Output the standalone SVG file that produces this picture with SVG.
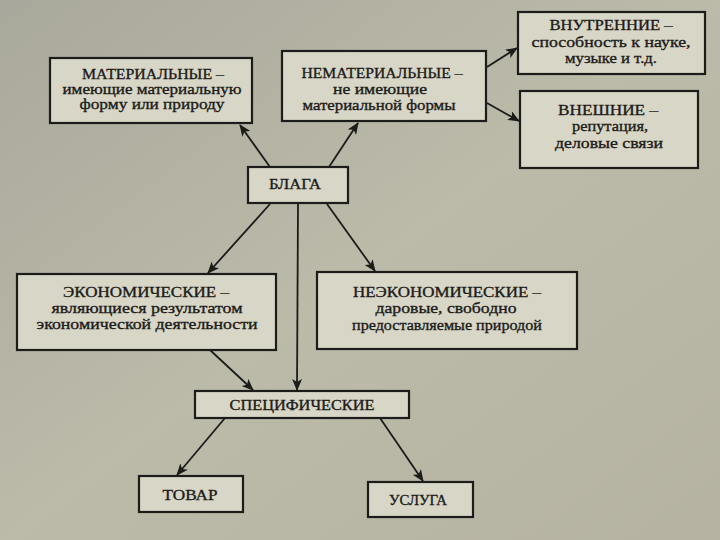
<svg xmlns="http://www.w3.org/2000/svg" width="720" height="540" viewBox="0 0 720 540">
<defs>
<linearGradient id="bg" x1="0" y1="0" x2="1" y2="1">
<stop offset="0" stop-color="#a9a89c"/>
<stop offset="0.5" stop-color="#bcbaa9"/>
<stop offset="1" stop-color="#b5b2a2"/>
</linearGradient>
<marker id="ah" viewBox="0 0 12 10" refX="11" refY="5" markerWidth="12" markerHeight="10" markerUnits="userSpaceOnUse" orient="auto">
<path d="M0,0 L12,5 L0,10 L3,5 Z" fill="#1c1c1a"/>
</marker>
<style>
.box{fill:#d8d6c6;stroke:#1c1c1a;stroke-width:2.2}
.t{font-family:"Liberation Serif","DejaVu Serif",serif;font-size:15px;fill:#1c1c1a;stroke:#1c1c1a;stroke-width:0.35;text-anchor:middle}
.c{stroke:#1c1c1a;stroke-width:1.8;fill:none;marker-end:url(#ah)}
</style>
</defs>
<rect width="720" height="540" fill="url(#bg)"/>

<g id="connectors">
<line class="c" x1="270" y1="167" x2="240" y2="125"/>
<line class="c" x1="329" y1="167" x2="358" y2="123"/>
<line class="c" x1="487" y1="67" x2="517" y2="48"/>
<line class="c" x1="487" y1="103" x2="519" y2="121"/>
<line class="c" x1="270" y1="204" x2="208" y2="273"/>
<line class="c" x1="298" y1="204" x2="297" y2="390"/>
<line class="c" x1="327" y1="204" x2="375" y2="271"/>
<line class="c" x1="210" y1="350" x2="253" y2="390"/>
<line class="c" x1="225" y1="418" x2="177" y2="475"/>
<line class="c" x1="380" y1="418" x2="423" y2="481"/>
</g>

<g id="material">
<rect class="box" x="50" y="58" width="202" height="65"/>
<text class="t" x="153" y="79" textLength="142" lengthAdjust="spacingAndGlyphs">МАТЕРИАЛЬНЫЕ –</text>
<text class="t" x="152" y="94" textLength="179" lengthAdjust="spacingAndGlyphs">имеющие материальную</text>
<text class="t" x="152" y="109" textLength="145" lengthAdjust="spacingAndGlyphs">форму или природу</text>
</g>

<g id="nonmaterial">
<rect class="box" x="282" y="51" width="204" height="70"/>
<text class="t" x="382" y="78" textLength="161" lengthAdjust="spacingAndGlyphs">НЕМАТЕРИАЛЬНЫЕ –</text>
<text class="t" x="380" y="94" textLength="94" lengthAdjust="spacingAndGlyphs">не имеющие</text>
<text class="t" x="379" y="110" textLength="153" lengthAdjust="spacingAndGlyphs">материальной формы</text>
</g>

<g id="internal">
<rect class="box" x="518" y="12" width="187" height="62"/>
<text class="t" x="611" y="30" textLength="123" lengthAdjust="spacingAndGlyphs">ВНУТРЕННИЕ –</text>
<text class="t" x="611" y="47" textLength="159" lengthAdjust="spacingAndGlyphs">способность к науке,</text>
<text class="t" x="611" y="63" textLength="92" lengthAdjust="spacingAndGlyphs">музыке и т.д.</text>
</g>

<g id="external">
<rect class="box" x="520" y="91" width="178" height="77"/>
<text class="t" x="608" y="115" textLength="100" lengthAdjust="spacingAndGlyphs">ВНЕШНИЕ –</text>
<text class="t" x="610" y="131" textLength="76" lengthAdjust="spacingAndGlyphs">репутация,</text>
<text class="t" x="609" y="148" textLength="108" lengthAdjust="spacingAndGlyphs">деловые связи</text>
</g>

<g id="blaga">
<rect class="box" x="248" y="167" width="100" height="36"/>
<text class="t" x="295" y="189" textLength="52" lengthAdjust="spacingAndGlyphs">БЛАГА</text>
</g>

<g id="economic">
<rect class="box" x="17" y="274" width="259" height="76"/>
<text class="t" x="146" y="297" textLength="166" lengthAdjust="spacingAndGlyphs">ЭКОНОМИЧЕСКИЕ –</text>
<text class="t" x="147" y="313" textLength="191" lengthAdjust="spacingAndGlyphs">являющиеся результатом</text>
<text class="t" x="147" y="329" textLength="221" lengthAdjust="spacingAndGlyphs">экономической деятельности</text>
</g>

<g id="noneconomic">
<rect class="box" x="317" y="272" width="260" height="77"/>
<text class="t" x="447" y="297" textLength="188" lengthAdjust="spacingAndGlyphs">НЕЭКОНОМИЧЕСКИЕ –</text>
<text class="t" x="446" y="313" textLength="141" lengthAdjust="spacingAndGlyphs">даровые, свободно</text>
<text class="t" x="447" y="330" textLength="190" lengthAdjust="spacingAndGlyphs">предоставляемые природой</text>
</g>

<g id="specific">
<rect class="box" x="195" y="391" width="214" height="27"/>
<text class="t" x="302" y="410" textLength="145" lengthAdjust="spacingAndGlyphs">СПЕЦИФИЧЕСКИЕ</text>
</g>

<g id="goods">
<rect class="box" x="139" y="476" width="104" height="36"/>
<text class="t" x="190" y="500" textLength="55" lengthAdjust="spacingAndGlyphs">ТОВАР</text>
</g>

<g id="service">
<rect class="box" x="368" y="482" width="105" height="35"/>
<text class="t" x="418" y="505" textLength="58" lengthAdjust="spacingAndGlyphs">УСЛУГА</text>
</g>
</svg>
